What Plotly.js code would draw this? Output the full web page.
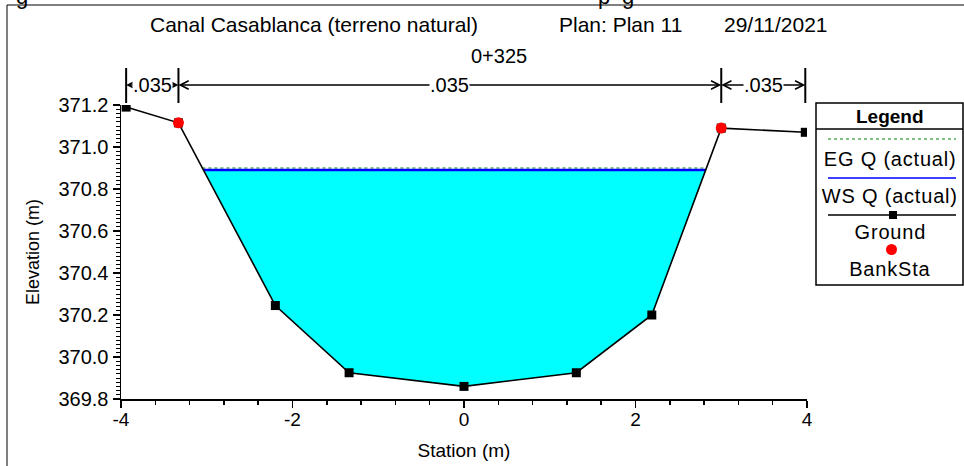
<!DOCTYPE html>
<html>
<head>
<meta charset="utf-8">
<script src="https://cdn.plot.ly/plotly-3.0.1.min.js"></script>
<style>
body{margin:0;padding:0;background:#fff;}
#chart{width:964px;height:466px;}
</style>
</head>
<body>
<div id="chart"></div>
<script>
// ---- data ----
const station = [-3.94, -3.33, -2.20, -1.34, 0.00, 1.31, 2.19, 3.00, 3.98];
const ground  = [371.19, 371.115, 370.245, 369.925, 369.86, 369.925, 370.20, 371.09, 371.07];
const bankStation = [-3.33, 3.00];
const bankElev    = [371.115, 371.09];
const wsElev = 370.89;   // WS Q (actual)
const egElev = 370.90;   // EG Q (actual)
const nValues = ['.035', '.035', '.035'];
const xTickVals = [-4, -2, 0, 2, 4];
const yTickVals = [369.8, 370.0, 370.2, 370.4, 370.6, 370.8, 371.0, 371.2];
const titleParts = ['Canal Casablanca (terreno natural)', 'Plan: Plan 11', '29/11/2021'];
const rsLabel = '0+325';
const legendLabels = ['EG Q (actual)', 'WS Q (actual)', 'Ground', 'BankSta'];

// ---- geometry helpers (pixel -> paper) ----
const W = 964, H = 466;
const M = {l:121, r:157, t:105, b:67};
const PW = W - M.l - M.r, PH = H - M.t - M.b;
const px = x => (x - M.l) / PW;
const py = y => (H - M.b - y) / PH;

// water-surface crossings with ground
function crossings(level){
  const pts = [];
  for (let i = 0; i < station.length - 1; i++) {
    const y0 = ground[i], y1 = ground[i+1];
    if ((y0 - level) * (y1 - level) < 0) {
      const t = (level - y0) / (y1 - y0);
      pts.push([station[i] + t * (station[i+1] - station[i]), i]);
    }
  }
  return pts;
}
const cr = crossings(wsElev);
const xL = cr[0][0], iL = cr[0][1], xR = cr[cr.length-1][0], iR = cr[cr.length-1][1];
const polyX = [xL], polyY = [wsElev];
for (let i = iL + 1; i <= iR; i++) { polyX.push(station[i]); polyY.push(ground[i]); }
polyX.push(xR, xL); polyY.push(wsElev, wsElev);
const crE = crossings(egElev);
const eL = crE[0][0], eR = crE[crE.length-1][0];

const traces = [
  {x: polyX, y: polyY, mode:'lines', fill:'toself', fillcolor:'#00FFFF', line:{width:0, color:'#00FFFF'}, hoverinfo:'skip'},
  {x: [eL, eR], y: [egElev, egElev], mode:'lines', line:{color:'#008000', width:1, dash:'dot'}},
  {x: [xL, xR], y: [wsElev, wsElev], mode:'lines', line:{color:'#0000FF', width:2.5}},
  {x: station, y: ground, mode:'lines+markers', line:{color:'#000', width:1.6}, marker:{symbol:'square', size:9, color:'#000'}},
  {x: bankStation, y: bankElev, mode:'markers', marker:{symbol:'circle', size:11, color:'#FF0000'}}
];

const font = 'Liberation Sans, Arial, sans-serif';
const shapes = [];
const ann = [];

// outer frame (partial)
shapes.push({type:'line', xref:'paper', yref:'paper', x0:px(7), x1:px(964), y0:py(5), y1:py(5), line:{color:'#000', width:1}});
shapes.push({type:'line', xref:'paper', yref:'paper', x0:px(7), x1:px(7), y0:py(5), y1:py(466), line:{color:'#000', width:1}});

// clipped caption glyphs at very top (only descenders show)
[['g', 22], ['p', 604], ['g', 628]].forEach(([t, x]) => {
  ann.push({text:t, xref:'paper', yref:'paper', x:px(x), y:py(11), xanchor:'center', yanchor:'bottom', showarrow:false, font:{family:font, size:22, color:'#000'}});
});

// title pieces
const tY = py(25);
ann.push({text:titleParts[0], xref:'paper', yref:'paper', x:px(148), y:tY, xanchor:'left', yanchor:'middle', showarrow:false, font:{family:font, size:21, color:'#000'}});
ann.push({text:titleParts[1], xref:'paper', yref:'paper', x:px(557), y:tY, xanchor:'left', yanchor:'middle', showarrow:false, font:{family:font, size:21, color:'#000'}});
ann.push({text:titleParts[2], xref:'paper', yref:'paper', x:px(722), y:tY, xanchor:'left', yanchor:'middle', showarrow:false, font:{family:font, size:21, color:'#000'}});
ann.push({text:rsLabel, xref:'paper', yref:'paper', x:px(499), y:py(56), xanchor:'center', yanchor:'middle', showarrow:false, font:{family:font, size:20, color:'#000'}});

// Manning n markers
const nBounds = [station[0], bankStation[0], bankStation[1], station[station.length-1]];
nBounds.forEach(s => {
  shapes.push({type:'line', xref:'x', yref:'paper', x0:s, x1:s, y0:py(68), y1:py(103), line:{color:'#000', width:2}});
});
const aY = py(85);
for (let k = 0; k < 3; k++) {
  const a = nBounds[k], b = nBounds[k+1], c = (a + b) / 2;
  ann.push({text:'', x:a, y:aY, xref:'x', yref:'paper', ax:c, ay:0, axref:'x', ayref:'pixel', showarrow:true, arrowhead:5, arrowsize:1.1, arrowwidth:1.5, arrowcolor:'#000'});
  ann.push({text:'', x:b, y:aY, xref:'x', yref:'paper', ax:c, ay:0, axref:'x', ayref:'pixel', showarrow:true, arrowhead:5, arrowsize:1.1, arrowwidth:1.5, arrowcolor:'#000'});
  ann.push({text:nValues[k], x:c, y:aY, xref:'x', yref:'paper', xanchor:'center', yanchor:'middle', showarrow:false, bgcolor:'#fff', borderpad:0, font:{family:font, size:20, color:'#000'}});
}

// legend box
const LX0 = 816, LX1 = 963, LY0 = 103, LY1 = 285;
shapes.push({type:'rect', xref:'paper', yref:'paper', x0:px(LX0), x1:px(LX1), y0:py(LY0), y1:py(LY1), line:{color:'#000', width:1.5}, fillcolor:'#fff'});
shapes.push({type:'line', xref:'paper', yref:'paper', x0:px(LX0), x1:px(LX1), y0:py(129), y1:py(129), line:{color:'#000', width:1.5}});
const legFont = {family:font, size:20, color:'#000'};
ann.push({text:'<b>Legend</b>', xref:'paper', yref:'paper', x:px(890), y:py(116), xanchor:'center', yanchor:'middle', showarrow:false, font:{family:font, size:19, color:'#000'}});
shapes.push({type:'line', xref:'paper', yref:'paper', x0:px(828), x1:px(956), y0:py(139), y1:py(139), line:{color:'#008000', width:1, dash:'dot'}});
ann.push({text:legendLabels[0], xref:'paper', yref:'paper', x:px(890), y:py(159), xanchor:'center', yanchor:'middle', showarrow:false, font:legFont});
shapes.push({type:'line', xref:'paper', yref:'paper', x0:px(828), x1:px(956), y0:py(178), y1:py(178), line:{color:'#0000FF', width:1.5}});
ann.push({text:legendLabels[1], xref:'paper', yref:'paper', x:px(890), y:py(196), xanchor:'center', yanchor:'middle', showarrow:false, font:legFont});
shapes.push({type:'line', xref:'paper', yref:'paper', x0:px(828), x1:px(956), y0:py(215), y1:py(215), line:{color:'#000', width:1.5}});
shapes.push({type:'rect', xref:'paper', yref:'paper', x0:px(889), x1:px(897), y0:py(211), y1:py(219), line:{width:0}, fillcolor:'#000'});
ann.push({text:legendLabels[2], xref:'paper', yref:'paper', x:px(890), y:py(232), xanchor:'center', yanchor:'middle', showarrow:false, font:legFont});
shapes.push({type:'circle', xref:'paper', yref:'paper', x0:px(886), x1:px(897), y0:py(244), y1:py(255), line:{width:0}, fillcolor:'#FF0000'});
ann.push({text:legendLabels[3], xref:'paper', yref:'paper', x:px(890), y:py(269), xanchor:'center', yanchor:'middle', showarrow:false, font:legFont});

const layout = {
  width: W, height: H,
  margin: M,
  paper_bgcolor:'#fff', plot_bgcolor:'#fff',
  showlegend:false,
  font:{family:font, color:'#000'},
  xaxis:{
    range:[-4, 4], tickvals:xTickVals, ticktext:xTickVals.map(String),
    showgrid:false, zeroline:false, showline:true, linecolor:'#000', linewidth:1.5,
    ticks:'outside', ticklen:7, tickwidth:1.5, tickcolor:'#000',
    minor:{dtick:0.4, tick0:-4, ticks:'outside', ticklen:4, tickwidth:1.5, tickcolor:'#000', showgrid:false},
    tickfont:{family:font, size:19, color:'#000'},
    ticklabelstandoff:-4,
    title:{text:'Station (m)', font:{family:font, size:19, color:'#000'}, standoff:14}
  },
  yaxis:{
    range:[369.8, 371.2], tickvals:yTickVals, ticktext:yTickVals.map(v=>v.toFixed(1)),
    showgrid:false, zeroline:false, showline:true, linecolor:'#000', linewidth:1.5,
    ticks:'outside', ticklen:7, tickwidth:1.5, tickcolor:'#000',
    minor:{dtick:0.02, tick0:369.8, ticks:'outside', ticklen:4, tickwidth:1, tickcolor:'#000', showgrid:false},
    tickfont:{family:font, size:20, color:'#000'},
    title:{text:'Elevation (m)', font:{family:font, size:18, color:'#000'}, standoff:14}
  },
  shapes: shapes,
  annotations: ann
};

Plotly.newPlot('chart', traces, layout, {displayModeBar:false, staticPlot:true}).then(() => {
  // legend labels in the reference are letter-spaced
  document.querySelectorAll('.annotation-text').forEach(el => {
    if (legendLabels.includes(el.textContent)) el.style.letterSpacing = '0.8px';
  });
});
</script>
</body>
</html>
